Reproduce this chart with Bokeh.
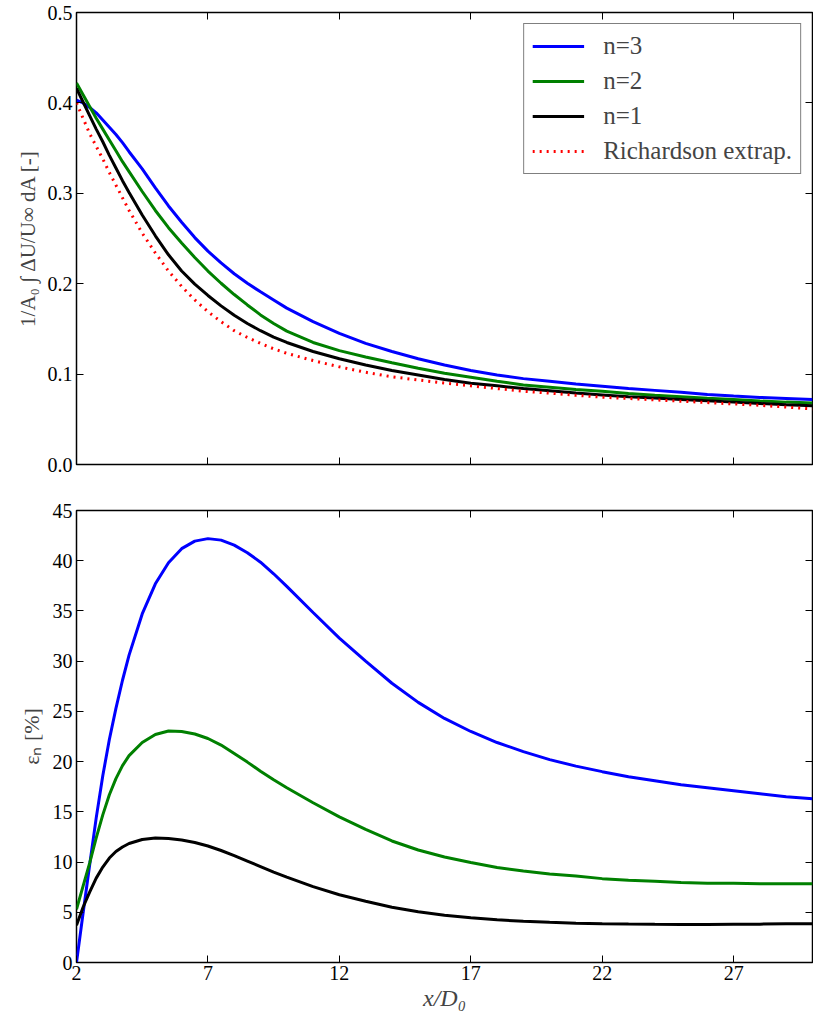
from bokeh.plotting import figure
from bokeh.layouts import column
from bokeh.models import (Range1d, FixedTicker, LinearAxis, Legend, LegendItem,
                          NumeralTickFormatter, CustomLabelingPolicy)
from bokeh.embed import file_html
from bokeh.resources import INLINE

# ---------------- data ----------------
x_top = [2, 2.25, 2.5, 2.75, 3, 3.25, 3.5, 3.75, 4, 4.5, 5, 5.5, 6, 6.5, 7, 7.5, 8, 8.5,
         9, 9.5, 10, 11, 12, 13, 14, 15, 16, 17, 18, 19, 20, 21, 22, 23, 24, 25, 26,
         27, 28, 29, 30]
top_n3 = [0.403, 0.400, 0.395, 0.389, 0.381, 0.373, 0.365, 0.356, 0.346, 0.327, 0.306,
          0.286, 0.268, 0.251, 0.236, 0.223, 0.211, 0.2005, 0.191, 0.182, 0.173, 0.158,
          0.145, 0.134, 0.125, 0.117, 0.110, 0.104, 0.099, 0.095, 0.092, 0.089, 0.0865,
          0.084, 0.082, 0.080, 0.0775, 0.0758, 0.0742, 0.073, 0.0718]
top_n2 = [0.422, 0.409, 0.396, 0.383, 0.371, 0.359, 0.347, 0.335, 0.324, 0.302, 0.281,
          0.262, 0.245, 0.229, 0.214, 0.2005, 0.188, 0.1765, 0.1655, 0.1560, 0.1475,
          0.1350, 0.1260, 0.1190, 0.1125, 0.1065, 0.101, 0.0965, 0.092, 0.088, 0.0855,
          0.083, 0.081, 0.0785, 0.0765, 0.075, 0.0732, 0.0718, 0.0703, 0.069, 0.068]
top_n1 = [0.416, 0.401, 0.386, 0.371, 0.357, 0.342, 0.328, 0.314, 0.301, 0.276, 0.253,
          0.232, 0.214, 0.1995, 0.187, 0.1755, 0.165, 0.156, 0.148, 0.141, 0.135, 0.125,
          0.117, 0.110, 0.104, 0.099, 0.094, 0.090, 0.087, 0.084, 0.0815, 0.079, 0.077,
          0.075, 0.0735, 0.072, 0.0705, 0.069, 0.0675, 0.066, 0.065]
top_rich = [0.400, 0.383, 0.366, 0.352, 0.338, 0.323, 0.309, 0.295, 0.281, 0.256, 0.234,
            0.214, 0.197, 0.182, 0.169, 0.158, 0.148, 0.1405, 0.134, 0.128, 0.123, 0.115,
            0.108, 0.102, 0.097, 0.0935, 0.090, 0.087, 0.084, 0.081, 0.079, 0.0765,
            0.0745, 0.073, 0.0715, 0.070, 0.0685, 0.067, 0.0655, 0.0635, 0.0615]

x_bot = [2, 2.25, 2.5, 2.75, 3, 3.25, 3.5, 3.75, 4, 4.5, 5, 5.5, 6, 6.5, 7, 7.5, 8, 8.5,
         9, 9.5, 10, 11, 12, 13, 14, 15, 16, 17, 18, 19, 20, 21, 22, 23, 24, 25, 26, 27,
         28, 29, 30]
err_n3 = [0.0, 4.9, 9.7, 14.4, 18.6, 22.2, 25.3, 28.1, 30.6, 34.7, 37.7, 39.8, 41.2,
          41.95, 42.2, 42.05, 41.55, 40.8, 39.85, 38.7, 37.45, 34.85, 32.3, 30.0, 27.8,
          25.9, 24.3, 23.0, 21.9, 21.0, 20.2, 19.55, 19.0, 18.5, 18.1, 17.7, 17.4, 17.1,
          16.8, 16.5, 16.3]
err_n2 = [5.3, 7.6, 9.9, 12.4, 14.7, 16.7, 18.3, 19.6, 20.6, 21.9, 22.7, 23.05, 23.0,
          22.75, 22.3, 21.65, 20.8, 19.95, 19.05, 18.2, 17.4, 15.9, 14.5, 13.25, 12.1,
          11.2, 10.5, 9.95, 9.45, 9.1, 8.8, 8.6, 8.35, 8.2, 8.1, 7.97, 7.9, 7.88, 7.85,
          7.85, 7.85]
err_n1 = [3.7, 5.5, 7.0, 8.4, 9.5, 10.4, 11.05, 11.5, 11.85, 12.25, 12.4, 12.35, 12.2,
          11.95, 11.6, 11.15, 10.65, 10.1, 9.55, 9.0, 8.5, 7.55, 6.75, 6.1, 5.5, 5.05,
          4.7, 4.45, 4.25, 4.1, 4.0, 3.92, 3.87, 3.83, 3.8, 3.78, 3.78, 3.8, 3.82, 3.85,
          3.87]

x_ticks = [2, 7, 12, 17, 22, 27]
top_y_ticks = [0.0, 0.1, 0.2, 0.3, 0.4, 0.5]
bot_y_ticks = [0, 5, 10, 15, 20, 25, 30, 35, 40, 45]
labels = ["n=3", "n=2", "n=1", "Richardson extrap."]

FONT = "Liberation Serif"
BLUE, GREEN, BLACK, RED = "#0000ff", "#008000", "#000000", "#ff0000"
LW = 3


def style_axis(ax, ticks, show_labels, fmt=None):
    ax.ticker = FixedTicker(ticks=ticks)
    ax.major_tick_in = 7
    ax.major_tick_out = 0
    ax.minor_tick_in = 0
    ax.minor_tick_out = 0
    ax.axis_line_color = None
    ax.major_tick_line_color = "black"
    ax.major_tick_line_width = 1
    if show_labels:
        ax.major_label_text_font = FONT
        ax.major_label_text_font_size = "20px"
        ax.major_label_text_color = "black"
        ax.major_label_standoff = 4
    else:
        # tick marks only: no labels are drawn and no space is reserved for them
        ax.major_label_policy = CustomLabelingPolicy(code="return []")
        ax.major_label_text_font_size = "0px"
        ax.major_label_standoff = 0
    if fmt is not None:
        ax.formatter = fmt


def make_fig(height, yr, top, bottom):
    p = figure(width=813, height=height, x_range=Range1d(2, 30), y_range=yr,
               output_backend="svg", toolbar_location=None,
               min_border_left=76, min_border_right=1,
               min_border_top=top, min_border_bottom=bottom)
    p.grid.visible = False
    p.outline_line_color = "black"
    p.outline_line_width = 1.5
    p.background_fill_color = "white"
    p.border_fill_color = "white"
    p.add_layout(LinearAxis(), "above")
    p.add_layout(LinearAxis(), "right")
    return p


# ---------------- top panel ----------------
p1 = make_fig(487, Range1d(0, 0.5), 12, 23)
r3 = p1.line(x_top, top_n3, line_color=BLUE, line_width=LW)
r2 = p1.line(x_top, top_n2, line_color=GREEN, line_width=LW)
r1 = p1.line(x_top, top_n1, line_color=BLACK, line_width=LW)
rr = p1.line(x_top, top_rich, line_color=RED, line_width=LW, line_dash="2 5")

style_axis(p1.below[0], x_ticks, False)
style_axis(p1.above[0], x_ticks, False)
style_axis(p1.right[0], top_y_ticks, False)
style_axis(p1.left[0], top_y_ticks, True, NumeralTickFormatter(format="0.0"))
p1.left[0].axis_label = "1/A\u2080 \u222b \u0394U/U\u221e dA [-]"
p1.left[0].axis_label_text_font = FONT
p1.left[0].axis_label_text_font_size = "21px"
p1.left[0].axis_label_text_font_style = "normal"
p1.left[0].axis_label_standoff = 5

leg = Legend(items=[LegendItem(label=labels[0], renderers=[r3]),
                    LegendItem(label=labels[1], renderers=[r2]),
                    LegendItem(label=labels[2], renderers=[r1]),
                    LegendItem(label=labels[3], renderers=[rr])],
             location="top_right")
leg.margin = 11
leg.padding = 8
leg.spacing = 7
leg.glyph_width = 52
leg.glyph_height = 28
leg.label_height = 28
leg.label_standoff = 19
leg.label_text_font = FONT
leg.label_text_font_size = "25px"
leg.border_line_color = "black"
leg.border_line_width = 1.5
leg.background_fill_color = "white"
leg.background_fill_alpha = 1.0
p1.add_layout(leg)

# ---------------- bottom panel ----------------
p2 = make_fig(529, Range1d(0, 45), 23, 54)
p2.line(x_bot, err_n3, line_color=BLUE, line_width=LW)
p2.line(x_bot, err_n2, line_color=GREEN, line_width=LW)
p2.line(x_bot, err_n1, line_color=BLACK, line_width=LW)

style_axis(p2.below[0], x_ticks, True)
style_axis(p2.above[0], x_ticks, False)
style_axis(p2.right[0], bot_y_ticks, False)
style_axis(p2.left[0], bot_y_ticks, True)
p2.below[0].major_label_standoff = 3
p2.left[0].axis_label = "\u03b5\u2099 [%]"
p2.left[0].axis_label_text_font = FONT
p2.left[0].axis_label_text_font_size = "22px"
p2.left[0].axis_label_text_font_style = "normal"
p2.left[0].axis_label_standoff = 6
p2.below[0].axis_label = "x/D\u2080"
p2.below[0].axis_label_text_font = FONT
p2.below[0].axis_label_text_font_size = "24px"
p2.below[0].axis_label_text_font_style = "italic"
p2.below[0].axis_label_standoff = 2

layout = column(p1, p2, spacing=0)
open("out.html", "w").write(file_html(layout, INLINE))
